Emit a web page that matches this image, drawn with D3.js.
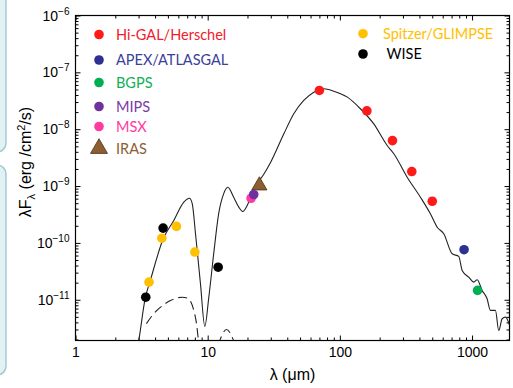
<!DOCTYPE html>
<html>
<head>
<meta charset="utf-8">
<script src="https://cdn.jsdelivr.net/npm/d3@7"></script>
<style>
  body { margin: 0; background: #fff; }
  svg { display: block; }
  .axis path { display: none; }
  .axis line { stroke: #000; stroke-width: 1; }
</style>
</head>
<body>
<svg id="canvas" width="513" height="388"></svg>
<script>
// ---- data (wavelength in micron, lambda F_lambda in erg/cm2/s) ----
var higal_wl   = [70, 160, 250, 350, 500];
var higal_flux = [4.8e-8, 2.1e-8, 6.3e-9, 1.8e-9, 5.4e-10];
var apex_wl    = [870];
var apex_flux  = [7.6e-11];
var bgps_wl    = [1100];
var bgps_flux  = [1.46e-11];
var mips_wl    = [22.3];
var mips_flux  = [7.1e-10];
var msx_wl     = [21.3];
var msx_flux   = [6.1e-10];
var iras_wl    = [24.6];
var iras_flux  = [1.02e-9];
var glimpse_wl   = [3.6, 4.5, 5.8, 8.0];
var glimpse_flux = [2.04e-11, 1.21e-10, 1.95e-10, 6.9e-11];
var wise_wl    = [3.4, 4.6, 12];
var wise_flux  = [1.11e-11, 1.82e-10, 3.74e-11];

// model SED (solid)
var model_wl = [2.9, 3.01, 3.38, 3.65, 4.61, 5.54, 6.6, 7.28, 7.64, 8.09, 8.82, 9.51, 10.2, 11.1, 12.1,
  13.2, 14.2, 15.7, 17.2, 18.4, 19.9, 21.7, 23.7, 26.5, 29.9, 37.7, 44.8, 53.3, 63.5, 75.5, 89.9,
  114, 143, 180, 228, 256, 323, 407, 484, 545, 611, 707, 793, 842, 944, 1030, 1093, 1192, 1300,
  1377, 1503, 1592, 1690, 1790, 1920];
var model_flux = [1.2e-12, 1.92e-12, 1.11e-11, 2.04e-11, 1.18e-10, 2.48e-10, 5.2e-10, 6.1e-10, 4.9e-10,
  1.45e-10, 1.9e-11, 3.4e-12, 1.11e-11, 6.4e-11, 3.25e-10, 7.3e-10, 9.5e-10, 6.4e-10, 4.25e-10,
  3.57e-10, 4.55e-10, 7.3e-10, 1.1e-9, 1.6e-9, 2.6e-9, 8.3e-9, 1.87e-8, 3.2e-8, 4.48e-8, 5.14e-8,
  4.67e-8, 3.66e-8, 2.29e-8, 1.25e-8, 5.17e-9, 3.7e-9, 1.43e-9, 6.37e-10, 3.25e-10, 1.89e-10,
  1.45e-10, 6.44e-11, 5.78e-11, 3.27e-11, 2.5e-11, 2.04e-11, 2.25e-11, 1.46e-11, 1.04e-11,
  6.5e-12, 6.5e-12, 2.88e-12, 4.63e-12, 4.94e-12, 3.6e-12];

// stellar component (dashed), two pieces
var star_wl   = [3.44, 3.91, 4.4, 5.23, 6.41, 7.19, 7.41, 7.85, 8.23, 8.52, 8.8];
var star_flux = [3.8e-12, 5.7e-12, 7.4e-12, 9.7e-12, 1.11e-11, 1.05e-11, 9.5e-12, 6.5e-12, 3.8e-12, 1.92e-12, 1.2e-12];
var star2_wl   = [12.0, 13.9, 15.7, 16.5];
var star2_flux = [1.6e-12, 3.0e-12, 1.92e-12, 1.4e-12];

var x_ticks = [1, 10, 100, 1000];
var y_ticks = [1e-6, 1e-7, 1e-8, 1e-9, 1e-10, 1e-11];

var legend_left  = [
  { name: 'Hi-GAL/Herschel', color: '#ff1a1a', text: '#f0212b', sym: 'circle' },
  { name: 'APEX/ATLASGAL',   color: '#2e3192', text: '#3a3f9a', sym: 'circle' },
  { name: 'BGPS',            color: '#00b050', text: '#10b055', sym: 'circle' },
  { name: 'MIPS',            color: '#7030a0', text: '#7a3aa8', sym: 'circle' },
  { name: 'MSX',             color: '#ff3aa0', text: '#ff3aa0', sym: 'circle' },
  { name: 'IRAS',            color: '#8c5e32', text: '#8c5e32', sym: 'triangle' }
];
var legend_right = [
  { name: 'Spitzer/GLIMPSE', color: '#ffc000', text: '#ffc000' },
  { name: ' WISE',           color: '#000000', text: '#000000' }
];

// ************************************************************************************** //
// Setup

var svg = d3.select('#canvas');
var L = 75.5, R = 509.5, T = 15.5, B = 340.5;

var x = d3.scaleLog().domain([1, 1920]).range([L, R]);
var y = d3.scaleLog().domain([1.92e-12, 1e-6]).range([B, T]);

// slide box remnants at left edge
svg.append('rect').attr('x', -20).attr('y', -20).attr('width', 26).attr('height', 172).attr('rx', 9)
  .attr('fill', '#e2f1f4').attr('stroke', '#9fcbd4').attr('stroke-width', 1.5);
svg.append('rect').attr('x', -20).attr('y', 165).attr('width', 26).attr('height', 210).attr('rx', 9)
  .attr('fill', '#e2f1f4').attr('stroke', '#9fcbd4').attr('stroke-width', 1.5);

svg.append('clipPath').attr('id', 'clip').append('rect')
  .attr('x', L).attr('y', T).attr('width', R - L).attr('height', B - T);

function minorTicks(lo, hi) {
  var out = [];
  for (var e = lo; e <= hi; e++)
    for (var k = 2; k <= 9; k++) {
      var v = k * Math.pow(10, e);
      out.push(v);
    }
  return out;
}
var x_minor = minorTicks(0, 3).filter(v => v < 1920);
var y_minor = minorTicks(-12, -7).filter(v => v > 1.92e-12 && v < 1e-6);

// ticks (inward, all four sides)
function tickSet(axisFn, scale, vals, size, tr) {
  svg.append('g').attr('class', 'axis').attr('transform', tr)
    .call(axisFn(scale).tickValues(vals).tickSize(size).tickFormat(''));
}
tickSet(d3.axisTop, x, x_ticks, 5, 'translate(0,' + B + ')');
tickSet(d3.axisTop, x, x_minor, 3, 'translate(0,' + B + ')');
tickSet(d3.axisBottom, x, x_ticks, 5, 'translate(0,' + T + ')');
tickSet(d3.axisBottom, x, x_minor, 3, 'translate(0,' + T + ')');
tickSet(d3.axisRight, y, y_ticks, 5, 'translate(' + L + ',0)');
tickSet(d3.axisRight, y, y_minor, 3, 'translate(' + L + ',0)');
tickSet(d3.axisLeft, y, y_ticks, 5, 'translate(' + R + ',0)');
tickSet(d3.axisLeft, y, y_minor, 3, 'translate(' + R + ',0)');

// x labels
var xAxis = svg.append('g').attr('class', 'axis').attr('transform', 'translate(0,' + B + ')')
  .call(d3.axisBottom(x).tickValues(x_ticks).tickSize(0).tickPadding(7).tickFormat(d3.format('d')));
xAxis.selectAll('text').attr('font-family', 'Liberation Sans, Arial, sans-serif').attr('font-size', 14).attr('fill', '#000');

// y labels with superscripts
var ylab = svg.append('g').selectAll('text').data(y_ticks).enter().append('text')
  .attr('x', L - 6).attr('y', d => y(d) + 5)
  .attr('text-anchor', 'end')
  .attr('font-family', 'Liberation Sans, Arial, sans-serif').attr('font-size', 14).attr('fill', '#000');
ylab.append('tspan').text('10');
ylab.append('tspan').attr('dy', -6).attr('font-size', 10).text(d => '\u2212' + Math.round(-Math.log10(d)));

// frame
svg.append('rect').attr('x', L).attr('y', T).attr('width', R - L).attr('height', B - T)
  .attr('fill', 'none').attr('stroke', '#000').attr('stroke-width', 1.2);

// titles
svg.append('text').attr('x', (L + R) / 2).attr('y', 380).attr('text-anchor', 'middle')
  .attr('font-family', 'Liberation Sans, Arial, sans-serif').attr('font-size', 16)
  .text('\u03bb (\u03bcm)');
var yt = svg.append('text').attr('transform', 'translate(31,162) rotate(-90)').attr('text-anchor', 'middle')
  .attr('font-family', 'Liberation Sans, Arial, sans-serif').attr('font-size', 16);
yt.append('tspan').text('\u03bbF');
yt.append('tspan').attr('dy', 4).attr('font-size', 11).text('\u03bb');
yt.append('tspan').attr('dy', -4).text(' (erg  /cm');
yt.append('tspan').attr('dy', -6).attr('font-size', 11).text('2');
yt.append('tspan').attr('dy', 6).text('/s)');

// ************************************************************************************** //
// Curves

var lineGen = d3.line().x(d => x(d[0])).y(d => y(d[1])).curve(d3.curveMonotoneX);
var plot = svg.append('g').attr('clip-path', 'url(#clip)');
plot.append('path').attr('d', lineGen(d3.zip(model_wl, model_flux)))
  .attr('fill', 'none').attr('stroke', '#222').attr('stroke-width', 1.1);
[ [star_wl, star_flux], [star2_wl, star2_flux] ].forEach(function(s) {
  plot.append('path').attr('d', lineGen(d3.zip(s[0], s[1])))
    .attr('fill', 'none').attr('stroke', '#222').attr('stroke-width', 1.1).attr('stroke-dasharray', '9,5');
});

// ************************************************************************************** //
// Points

var tri = d3.symbol().type(d3.symbolTriangle);
function dots(wl, fl, color) {
  svg.append('g').selectAll('circle').data(d3.zip(wl, fl)).enter().append('circle')
    .attr('cx', d => x(d[0])).attr('cy', d => y(d[1])).attr('r', 4.8).attr('fill', color);
}
svg.append('g').selectAll('path').data(d3.zip(iras_wl, iras_flux)).enter().append('path')
  .attr('d', tri.size(100)).attr('transform', d => 'translate(' + x(d[0]) + ',' + y(d[1]) + ')')
  .attr('fill', '#8c5e32').attr('stroke', '#4a3010').attr('stroke-width', 0.8);
dots(msx_wl, msx_flux, legend_left[4].color);
dots(mips_wl, mips_flux, legend_left[3].color);
dots(higal_wl, higal_flux, legend_left[0].color);
dots(apex_wl, apex_flux, legend_left[1].color);
dots(bgps_wl, bgps_flux, legend_left[2].color);
dots(glimpse_wl, glimpse_flux, legend_right[0].color);
dots(wise_wl, wise_flux, legend_right[1].color);

// ************************************************************************************** //
// Legends

var rowsL = [34.5, 60, 82.5, 106.5, 126.5, 148.5];
var lg = svg.append('g').selectAll('g').data(legend_left).enter().append('g')
  .attr('transform', (d, i) => 'translate(99,' + rowsL[i] + ')');
lg.filter(d => d.sym === 'circle').append('circle').attr('r', 4.8).attr('fill', d => d.color);
lg.filter(d => d.sym === 'triangle').append('path').attr('d', tri.size(125)())
  .attr('fill', d => d.color).attr('stroke', '#4a3010').attr('stroke-width', 0.8);
lg.append('text').attr('x', 17).attr('y', 5).attr('font-family', 'Lato, sans-serif').attr('font-size', 14.5)
  .attr('fill', d => d.text).text(d => d.name);

var rowsR = [33.7, 54];
var rg = svg.append('g').selectAll('g').data(legend_right).enter().append('g')
  .attr('transform', (d, i) => 'translate(363,' + rowsR[i] + ')');
rg.append('circle').attr('r', 4.8).attr('fill', d => d.color);
rg.append('text').attr('x', 20).attr('y', 5).attr('font-family', 'Lato, sans-serif').attr('font-size', 14.5)
  .attr('fill', d => d.text).attr('xml:space', 'preserve').style('white-space', 'pre').text(d => d.name);
</script>
</body>
</html>
